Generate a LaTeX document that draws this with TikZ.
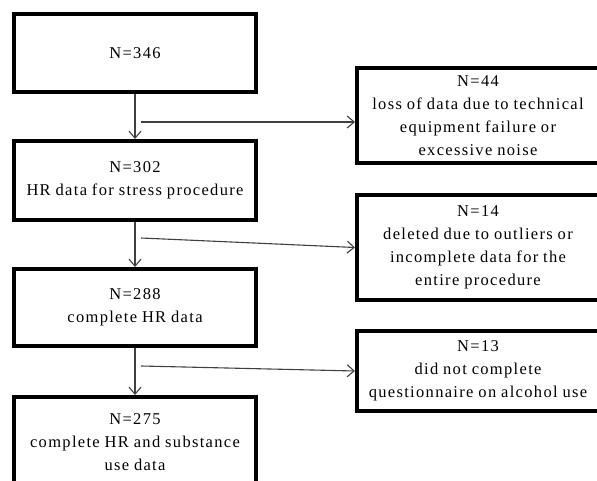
\documentclass[tikz,border=0pt]{standalone}
\usepackage{fontspec}
\setmainfont{Liberation Serif}
\newfontfamily\boxfont{Liberation Serif}[LetterSpace=8,WordSpace=0.9]
\usetikzlibrary{arrows.meta}
\tikzset{
  box/.style={draw=black, line width=4pt, minimum width=242pt, inner sep=0pt,
    align=center, font=\boxfont\fontsize{16.5}{23}\selectfont},
  conn/.style={draw=black!75, line width=1.1pt, -{Straight Barb[length=7pt,width=12pt,line width=1.1pt]}}
}
\begin{document}
\begin{tikzpicture}[x=1pt,y=-1pt]
\useasboundingbox (0,0) rectangle (597,481);
\clip (0,0) rectangle (597,481);
\node[box, minimum height=78pt] (A) at (135,53) {N=346};
\node[box, minimum height=79pt] (B) at (135,180.5) {N=302\\HR data for stress procedure};
\node[box, minimum height=77pt] (C) at (135,307.5) {N=288\\complete HR data};
\node[box, minimum height=90pt, anchor=north] (D) at (135,395) {N=275\\complete HR and substance\\use data};
\node[box, minimum height=95pt] (R1) at (478,115.5) {N=44\\loss of data due to technical\\equipment failure or\\excessive noise};
\node[box, minimum height=105pt] (R2) at (478,247.5) {N=14\\deleted due to outliers or\\incomplete data for the\\entire procedure};
\node[box, minimum height=80pt] (R3) at (478,371) {N=13\\did not complete\\questionnaire on alcohol use};
\coordinate (c1) at (141,122);
\coordinate (c2) at (141,238);
\coordinate (c3) at (141,366);
\draw[conn] (A) -- (B);
\draw[conn] (B) -- (C);
\draw[conn] (C) -- (D);
\draw[conn] (c1) -- (c1 -| R1.west);
\draw[conn] (c2) -- (R2.west);
\draw[conn] (c3) -- (R3.west);
\end{tikzpicture}
\end{document}
